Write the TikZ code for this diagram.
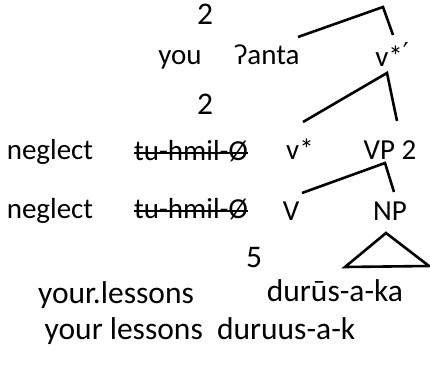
\documentclass[tikz,border=0pt]{standalone}
\usepackage{fontspec}
\setmainfont{Carlito}
\newfontfamily\symfont{DejaVu Sans}
\usetikzlibrary{positioning,calc}

\begin{document}
\begin{tikzpicture}[
  x=1pt, y=-1pt,
  every node/.style={font=\fontsize{29}{34}\selectfont, inner sep=0pt, anchor=base},
  big/.style={font=\fontsize{31.5}{36}\selectfont},
  branch/.style={line width=2.6pt, line join=miter},
  strike/.style={line width=1.3pt},
]
\useasboundingbox (0,0) rectangle (430,371);

% ── Row 0: subject ──
\node[big] (twoA) at (205,25) {2};
\node (you) at (180,65) {you};
\node (anta) at (267,65) {ʔanta};
\node (vbar) at (392,67) {v*\raisebox{5pt}{\symfont\fontsize{26}{30}\selectfont ′}};

% ── Row 1 ──
\node[big] (twoB) at (205,115) {2};
\node (negA) at (50,160) {neglect};
\node (tuA) at (191,161) {tu-hmil-Ø};
\node (vstar) at (300,160) {v*};
\node (vp) at (390,160) {VP 2};

% ── Row 2 ──
\node (negB) at (50,218) {neglect};
\node (tuB) at (191,218) {tu-hmil-Ø};
\node (verb) at (291,220) {V};
\node (np) at (390,220) {NP};

% ── Object ──
\node[big] (five) at (254,267) {5};
\node[big] (lessA) at (116,303) {your.lessons};
\node[big] (durA) at (335,301) {durūs-a-ka};
\node[big] (gloss) at (200,339) {your lessons~ duruus-a-k};

% ── Branch points ──
\coordinate (topL) at (298,37);
\coordinate (topA) at (383,7);
\coordinate (topR) at (393,35);
\coordinate (midL) at (303,122);
\coordinate (midA) at (387,73);
\coordinate (midR) at (397,121);
\coordinate (lowL) at (302,193);
\coordinate (lowA) at (385,163);
\coordinate (lowR) at (394,192);
\coordinate (triA) at (386,233);
\coordinate (triL) at (345,267);
\coordinate (triR) at (429,266);

% ── Branches ──
\draw[branch] (topL) -- (topA) -- (topR);
\draw[branch] (midL) -- (midA) -- (midR);
\draw[branch] (lowL) -- (lowA) -- (lowR);
\draw[branch] (triL) -- (triA) -- (triR) -- cycle;

% ── Struck-out forms ──
\draw[strike] ([yshift=8pt]tuA.base west) -- ([yshift=8pt]tuA.base east);
\draw[strike] ([yshift=7pt]tuB.base west) -- ([yshift=7pt]tuB.base east);

\end{tikzpicture}
\end{document}
